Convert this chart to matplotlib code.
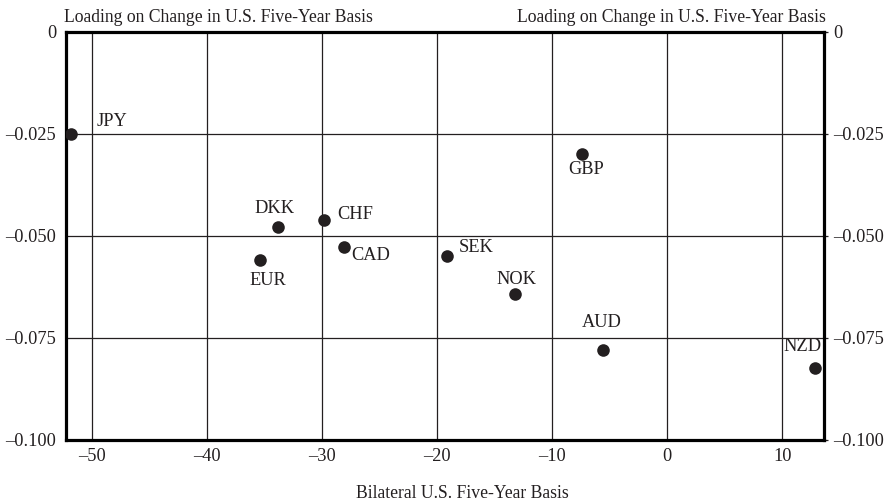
import matplotlib
matplotlib.use("Agg")
import matplotlib.pyplot as plt
from matplotlib.ticker import FuncFormatter

# -----------------------
# DATA
# -----------------------
currencies = ["JPY", "DKK", "CHF", "CAD", "EUR", "SEK", "NOK", "GBP", "AUD", "NZD"]
bilateral_basis = [-51.85, -33.8, -29.8, -28.05, -35.35, -19.1, -13.25, -7.4, -5.55, 12.85]
loading = [-0.0251, -0.0479, -0.0462, -0.0528, -0.0559, -0.0548, -0.0641, -0.0299, -0.0779, -0.0824]

# label offsets in points (dx, dy) and alignment
label_pos = {
    "JPY": (19, 9.0, "left"),
    "DKK": (-3, 13.5, "center"),
    "CHF": (9.5, 4, "left"),
    "CAD": (5, -6, "left"),
    "EUR": (5.5, -14.5, "center"),
    "SEK": (8, 6, "left"),
    "NOK": (1, 10, "center"),
    "GBP": (3, -11, "center"),
    "AUD": (-1.2, 19.5, "center"),
    "NZD": (-9, 15.5, "center"),
}

x_ticks = [-50, -40, -30, -20, -10, 0, 10]
y_ticks = [0, -0.025, -0.05, -0.075, -0.1]

INK = "#231f20"
FONT = "Liberation Serif"
FS = 13.2       # tick and point labels
FS_TITLE = 12.7

plt.rcParams["font.family"] = [FONT, "DejaVu Serif"]

def en_dash(fmt):
    return FuncFormatter(lambda v, pos: (fmt % v).replace("-", "\u2013") if abs(v) > 1e-12 else "0")

fig = plt.figure(figsize=(8.93, 5.03), dpi=100)
ax = fig.add_axes([66 / 893, 1 - 440 / 503, 757.7 / 893, 408 / 503])

ax.scatter(bilateral_basis, loading, s=82, color=INK, zorder=3, linewidths=0)
for name, x, y in zip(currencies, bilateral_basis, loading):
    dx, dy, ha = label_pos[name]
    ax.annotate(name, (x, y), xytext=(dx, dy), textcoords="offset points",
                ha=ha, va="center", fontsize=FS, color=INK)

ax.set_xlim(-52.25, 13.6)
ax.set_ylim(-0.1, 0)
ax.set_xticks(x_ticks)
ax.set_yticks(y_ticks)
ax.xaxis.set_major_formatter(en_dash("%d"))
ax.yaxis.set_major_formatter(en_dash("%.3f"))
ax.grid(True, color=INK, linewidth=0.9)
ax.set_axisbelow(True)

for sp in ax.spines.values():
    sp.set_linewidth(2.3)
    sp.set_color("black")

ax.tick_params(axis="x", length=0, pad=5.5, labelsize=FS, colors=INK)
ax.tick_params(axis="y", left=False, right=True, labelleft=True, labelright=True,
               length=3, width=0.9, pad=4, labelsize=FS, colors=INK)

ax.set_title("Loading on Change in U.S. Five-Year Basis", loc="left", fontsize=FS_TITLE, pad=7, color=INK, x=-0.003)
ax.set_title("Loading on Change in U.S. Five-Year Basis", loc="right", fontsize=FS_TITLE, pad=7, color=INK, x=1.003)
fig.text(462 / 893, 1 - 494 / 503, "Bilateral U.S. Five-Year Basis", ha="center", va="center",
         fontsize=FS_TITLE, color=INK)

fig.savefig("out.png", dpi=100)
